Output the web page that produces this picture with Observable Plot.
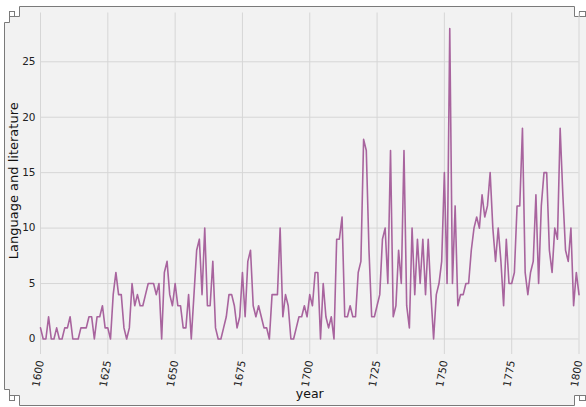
<!DOCTYPE html>
<html><head><meta charset="utf-8">
<script src="https://cdn.jsdelivr.net/npm/d3@7"></script>
<script src="https://cdn.jsdelivr.net/npm/@observablehq/plot@0.6"></script>
<style>
html,body{margin:0;padding:0;background:#fff;}
#wrap{position:relative;width:586px;height:407px;overflow:hidden;}
#deco,#chart{position:absolute;left:0;top:0;}
</style></head><body>
<div id="wrap">
<svg id="deco" width="586" height="407">
  <path d="M19.5,6.5H574.5V16.5H600V395.5H574.5V405.5H19.5V395.5H9.5V389.5H4.5V22.5H9.5V16.5H19.5Z" fill="#f2f2f2" stroke="none"/>
  <path d="M19.5,6.5H574.5V16.5H600M600,395.5H574.5V405.5H19.5V395.5H9.5V389.5H4.5V22.5H9.5V16.5H19.5V6.5" fill="none" stroke="#7a7a7a" stroke-width="1"/>
  <rect x="9.5" y="11.5" width="5" height="5" fill="none" stroke="#7a7a7a"/>
  <rect x="9.5" y="395.5" width="5" height="5" fill="none" stroke="#7a7a7a"/>
  <rect x="579.5" y="11.5" width="6" height="5" fill="none" stroke="#7a7a7a"/>
  <rect x="579.5" y="395.5" width="6" height="5" fill="none" stroke="#7a7a7a"/>
</svg>
<div id="chart"></div>
</div>
<script>
const years = [
1600,1601,1602,1603,1604,1605,1606,1607,1608,1609,1610,1611,1612,1613,1614,1615,1616,1617,1618,1619,
1620,1621,1622,1623,1624,1625,1626,1627,1628,1629,1630,1631,1632,1633,1634,1635,1636,1637,1638,1639,
1640,1641,1642,1643,1644,1645,1646,1647,1648,1649,1650,1651,1652,1653,1654,1655,1656,1657,1658,1659,
1660,1661,1662,1663,1664,1665,1666,1667,1668,1669,1670,1671,1672,1673,1674,1675,1676,1677,1678,1679,
1680,1681,1682,1683,1684,1685,1686,1687,1688,1689,1690,1691,1692,1693,1694,1695,1696,1697,1698,1699,
1700,1701,1702,1703,1704,1705,1706,1707,1708,1709,1710,1711,1712,1713,1714,1715,1716,1717,1718,1719,
1720,1721,1722,1723,1724,1725,1726,1727,1728,1729,1730,1731,1732,1733,1734,1735,1736,1737,1738,1739,
1740,1741,1742,1743,1744,1745,1746,1747,1748,1749,1750,1751,1752,1753,1754,1755,1756,1757,1758,1759,
1760,1761,1762,1763,1764,1765,1766,1767,1768,1769,1770,1771,1772,1773,1774,1775,1776,1777,1778,1779,
1780,1781,1782,1783,1784,1785,1786,1787,1788,1789,1790,1791,1792,1793,1794,1795,1796,1797,1798,1799,
1800];
const languageLiterature = [
1,0,0,2,0,0,1,0,0,1,1,2,0,0,0,1,1,1,2,2,
0,2,2,3,1,1,0,4,6,4,4,1,0,1,5,3,4,3,3,4,
5,5,5,4,5,0,6,7,4,3,5,3,3,1,1,4,0,4,8,9,
4,10,3,3,7,1,0,0,1,2,4,4,3,1,2,6,2,7,8,3,
2,3,2,1,1,0,4,4,4,10,2,4,3,0,0,1,2,2,3,2,
4,3,6,6,0,5,2,1,2,0,9,9,11,2,2,3,2,2,6,7,
18,17,8,2,2,3,4,9,10,5,17,2,3,8,5,17,3,1,10,4,
9,5,9,4,9,4,0,4,5,7,15,5,28,5,12,3,4,4,5,5,
8,10,11,10,13,11,12,15,10,7,10,7,3,9,5,5,6,12,12,19,
6,4,6,7,13,5,12,15,15,8,6,10,9,19,13,8,7,10,3,6,
4];
const xTicks = [1600, 1625, 1650, 1675, 1700, 1725, 1750, 1775, 1800];
const yTicks = [0, 5, 10, 15, 20, 25];
const xLabel = "year";
const yLabel = "Language and literature";

const ext = d3.extent(languageLiterature);
const pad = (ext[1] - ext[0]) * 0.05;

const chart = Plot.plot({
  width: 586, height: 407,
  marginLeft: 40, marginRight: 7.5, marginTop: 12.5, marginBottom: 53,
  style: {background: "transparent", fontFamily: "DejaVu Sans", fontSize: "10px", color: "#333"},
  x: {domain: [1600, 1800]},
  y: {domain: [ext[0] - pad, ext[1] + pad]},
  marks: [
    Plot.gridX(xTicks, {stroke: "#d6d6d6", strokeOpacity: 1, strokeWidth: 1}),
    Plot.gridY(yTicks, {stroke: "#d6d6d6", strokeOpacity: 1, strokeWidth: 1}),
    Plot.axisX(xTicks, {tickSize: 0, tickPadding: 6, tickRotate: -80, tickFormat: d => String(d), label: null, fill: "#222", fontSize: 10.5}),
    Plot.axisY(yTicks, {tickSize: 0, tickPadding: 5, label: null, fill: "#222", fontSize: 10.5}),
    Plot.text([xLabel], {frameAnchor: "bottom", dy: 43, fontSize: 12.5, fill: "#111"}),
    Plot.text([yLabel], {frameAnchor: "left", textAnchor: "middle", rotate: -90, dx: -27, dy: -3, fontSize: 13, fill: "#111"}),
    Plot.line(languageLiterature, {x: years, y: languageLiterature, stroke: "#a8649e", strokeWidth: 1.6})
  ]
});
document.getElementById("chart").appendChild(chart);
</script>
</body></html>
